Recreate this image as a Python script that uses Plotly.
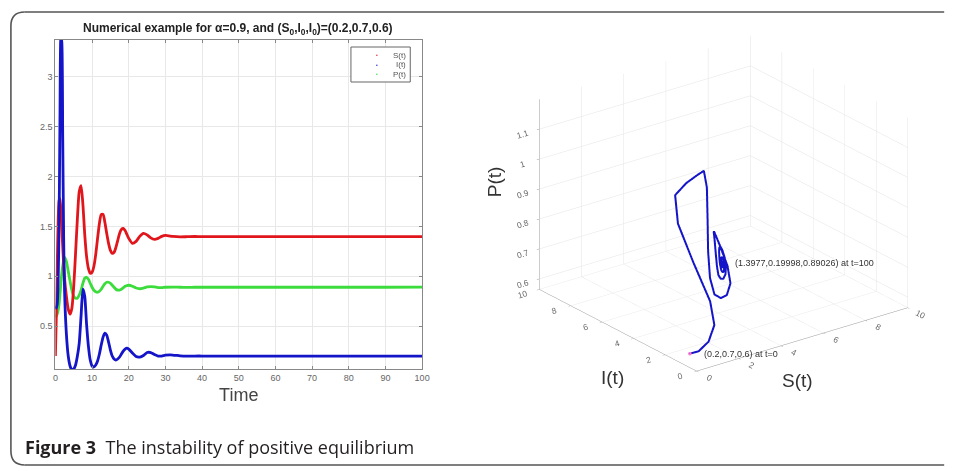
import plotly.graph_objects as go

# ---------------- data ----------------
t = [0, 0.25, 0.5, 0.75, 1, 1.25, 1.5, 1.75, 2, 2.25, 2.5,
     3, 3.5, 4, 4.5, 5, 5.5, 6, 6.5, 7, 7.5, 8, 8.5, 9, 9.5, 10, 10.5, 11, 11.5,
     12, 12.5, 13, 13.5, 14, 14.5, 15, 15.5, 16, 16.5, 17, 17.5, 18, 18.5, 19, 19.5, 20,
     21, 22, 23, 24, 25, 26, 27, 28, 29, 30,
     32, 34, 36, 38, 40,
     50, 60, 70, 80, 90, 100]
S = [0.2, 0.6, 1.1, 1.55, 1.76, 1.78, 1.65, 1.48, 1.3, 1.12, 0.98,
     0.8, 0.67, 0.62, 0.68, 0.9, 1.23, 1.58, 1.85, 1.91, 1.72, 1.42, 1.2, 1.08, 1.03,
     1.04, 1.1, 1.22, 1.38, 1.53, 1.62, 1.62, 1.54, 1.43, 1.33, 1.26, 1.23, 1.24,
     1.29, 1.36, 1.43, 1.47, 1.48, 1.46, 1.42, 1.38,
     1.33, 1.35, 1.4, 1.43, 1.415, 1.385, 1.37, 1.38, 1.4, 1.41,
     1.4, 1.395, 1.397, 1.399, 1.398,
     1.398, 1.398, 1.398, 1.398, 1.398, 1.3977]
I = [0.7, 0.68, 0.72, 0.95, 1.5, 2.6, 3.4, 3.35, 2.4, 1.4, 0.85,
     0.42, 0.2, 0.1, 0.06, 0.07, 0.11, 0.2, 0.33, 0.6, 0.87, 0.8, 0.52, 0.3, 0.16,
     0.1, 0.09, 0.11, 0.15, 0.22, 0.31, 0.39, 0.43, 0.41, 0.34, 0.26, 0.2, 0.17,
     0.16, 0.17, 0.19, 0.22, 0.25, 0.27, 0.28, 0.27,
     0.23, 0.195, 0.19, 0.205, 0.235, 0.235, 0.215, 0.2, 0.2, 0.208,
     0.21, 0.202, 0.199, 0.2, 0.2,
     0.2, 0.2, 0.2, 0.2, 0.2, 0.19998]
P = [0.6, 0.6, 0.62, 0.66, 0.72, 0.82, 0.93, 1.03, 1.1, 1.16, 1.19,
     1.15, 1.05, 0.95, 0.86, 0.8, 0.78, 0.78, 0.81, 0.86, 0.93, 0.98, 0.99, 0.97, 0.93,
     0.89, 0.86, 0.845, 0.84, 0.85, 0.87, 0.9, 0.925, 0.94, 0.94, 0.93, 0.91, 0.89,
     0.87, 0.862, 0.862, 0.87, 0.885, 0.9, 0.907, 0.91,
     0.9, 0.882, 0.875, 0.882, 0.893, 0.897, 0.893, 0.886, 0.886, 0.89,
     0.892, 0.89, 0.889, 0.89, 0.89,
     0.89, 0.89, 0.89, 0.89, 0.89, 0.89026]
assert len(t) == len(S) == len(I) == len(P)

x_ticks = [0, 10, 20, 30, 40, 50, 60, 70, 80, 90, 100]
y_ticks = [0.5, 1, 1.5, 2, 2.5, 3]
y_tick_text = ["0.5", "1", "1.5", "2", "2.5", "3"]
s_ticks = [0, 2, 4, 6, 8, 10]
i_ticks = [0, 2, 4, 6, 8, 10]
p_ticks = [0.6, 0.7, 0.8, 0.9, 1, 1.1]
legend_names = ["S(t)", "I(t)", "P(t)"]

RED = "#e0161c"
GREEN = "#3bdc3b"
BLUE = "#1414c8"
TICKC = "#666666"
FONT = "Liberation Sans, Arial, sans-serif"

fig = go.Figure()

# ---------------- 2D time series ----------------
for name, vals, col in [("P(t)", P, GREEN), ("S(t)", S, RED), ("I(t)", I, BLUE)]:
    fig.add_trace(go.Scatter(x=t, y=vals, mode="lines",
                             line=dict(color=col, width=2.8, shape="spline", smoothing=0.6),
                             showlegend=False, xaxis="x", yaxis="y", name=name))

# ---------------- 3D phase portrait ----------------
fig.add_trace(go.Scatter3d(x=S, y=I, z=P, mode="lines", line=dict(color=BLUE, width=4),
                           showlegend=False, scene="scene"))
fig.add_trace(go.Scatter3d(x=[S[0]], y=[I[0]], z=[P[0]], mode="markers",
                           marker=dict(color="#ff77cc", size=2, symbol="circle"),
                           showlegend=False, scene="scene"))

axis3d = dict(showbackground=False, gridcolor="#e4e4e4", gridwidth=1, showline=True,
              linecolor="#999999", linewidth=1, zeroline=False, ticks="outside", ticklen=3,
              tickcolor="#999999", tickfont=dict(family=FONT, size=10, color=TICKC),
              showspikes=False, title=dict(text=""))

K = 1.31  # zoom of the orthographic view
fig.update_layout(
    width=955, height=471,
    margin=dict(l=0, r=0, t=0, b=0),
    paper_bgcolor="white", plot_bgcolor="white",
    font=dict(family=FONT, color="#333333"),
    showlegend=False,
    xaxis=dict(domain=[0.0555, 0.444], range=[0, 100], tickvals=x_ticks,
               showgrid=True, gridcolor="#e8e8e8", zeroline=False, showline=True, mirror="ticks",
               linecolor="#888888", linewidth=1, ticks="inside", ticklen=3, tickcolor="#888888",
               tickfont=dict(family=FONT, size=9, color=TICKC),
               title=dict(text="Time", font=dict(family=FONT, size=18, color="#444444"), standoff=6)),
    yaxis=dict(domain=[0.2166, 0.915], range=[0.07, 3.37], tickvals=y_ticks, ticktext=y_tick_text,
               showgrid=True, gridcolor="#e8e8e8", zeroline=False, showline=True, mirror="ticks",
               linecolor="#888888", linewidth=1, ticks="inside", ticklen=3, tickcolor="#888888",
               tickfont=dict(family=FONT, size=9, color=TICKC)),
    scene=dict(
        domain=dict(x=[0.526, 1.0], y=[0.138, 0.998]),
        xaxis=dict(axis3d, range=[0, 10], tickvals=s_ticks),
        yaxis=dict(axis3d, range=[0, 10], tickvals=i_ticks),
        zaxis=dict(axis3d, range=[0.565, 1.2], tickvals=p_ticks),
        aspectmode="manual", aspectratio=dict(x=1*K, y=0.98*K, z=0.78*K),
        camera=dict(eye=dict(x=-0.742, y=-0.976, z=0.527), projection=dict(type="orthographic"),
                    center=dict(x=0, y=0, z=0)),
        annotations=[
            dict(x=S[-1], y=I[-1], z=P[-1], text="(1.3977,0.19998,0.89026) at t=100", showarrow=False,
                 xanchor="left", xshift=10, font=dict(family=FONT, size=9, color="#333333")),
            dict(x=S[0], y=I[0], z=P[0], text="(0.2,0.7,0.6) at t=0", showarrow=False,
                 xanchor="left", xshift=12, font=dict(family=FONT, size=9, color="#333333")),
        ],
    ),
    title=dict(text="<b>Numerical example for α=0.9, and (S<sub>0</sub>,I<sub>0</sub>,I<sub>0</sub>)=(0.2,0.7,0.6)</b>",
               x=0.249, xanchor="center", y=0.94, yanchor="middle",
               font=dict(family=FONT, size=12, color="#222222")),
)

W, H = 955.0, 471.0
# 3D axis titles placed as in the reference
for txt, px, py, ang in [("S(t)", 804, 380, 0), ("I(t)", 617, 377, 0), ("P(t)", 497, 182, -90)]:
    fig.add_annotation(xref="paper", yref="paper", x=px/W, y=1-py/H, text=txt, showarrow=False,
                       xanchor="center", yanchor="middle", textangle=ang,
                       font=dict(family=FONT, size=19, color="#333333"))

# legend box (drawn as decoration, like the MATLAB legend)
fig.add_shape(type="rect", xref="paper", yref="paper",
              x0=352/W, x1=412/W, y0=1-82/H, y1=1-47/H,
              line=dict(color="#666666", width=1), fillcolor="white")
for k, (nm, col) in enumerate(zip(legend_names, [RED, BLUE, GREEN])):
    yy = 1 - (55.5 + 9.5*k)/H
    fig.add_annotation(xref="paper", yref="paper", x=378/W, y=yy, text="•", showarrow=False,
                       xanchor="center", yanchor="middle", font=dict(size=5, color=col))
    fig.add_annotation(xref="paper", yref="paper", x=410/W, y=yy, text=nm, showarrow=False,
                       xanchor="right", yanchor="middle", font=dict(family=FONT, size=8, color="#555555"))

# rounded frame (open on the right) and caption
x0 = 8/W
yt, yb = 1-12/H, 1-465/H
rx, ry = 14/W, 14/H
xe = 0.997
frame = dict(color="#555555", width=1.6)
fig.add_shape(type="line", xref="paper", yref="paper", x0=x0+rx, x1=xe, y0=yt, y1=yt, line=frame)
fig.add_shape(type="line", xref="paper", yref="paper", x0=x0+rx, x1=xe, y0=yb, y1=yb, line=frame)
fig.add_shape(type="line", xref="paper", yref="paper", x0=x0, x1=x0, y0=yb+ry, y1=yt-ry, line=frame)
fig.add_shape(type="path", xref="paper", yref="paper",
              path=f"M {x0+rx} {yt} Q {x0} {yt} {x0} {yt-ry}", line=frame)
fig.add_shape(type="path", xref="paper", yref="paper",
              path=f"M {x0} {yb+ry} Q {x0} {yb} {x0+rx} {yb}", line=frame)
fig.add_annotation(xref="paper", yref="paper", x=20/W, y=1-447/H, xanchor="left", yanchor="middle",
                   text="<b>Figure 3</b>  The instability of positive equilibrium", showarrow=False,
                   font=dict(family="Open Sans, Noto Sans, sans-serif", size=18, color="#231f20"))

fig.write_html("out.html")
